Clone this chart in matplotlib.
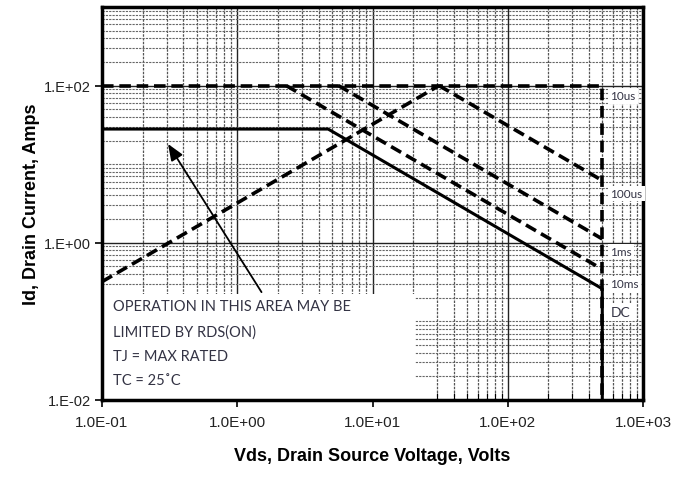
import matplotlib
matplotlib.use("Agg")
import matplotlib.pyplot as plt
from matplotlib.ticker import LogLocator, FixedLocator, NullFormatter
from matplotlib.patches import Rectangle

# ---- data ----
dc_v = [0.1, 4.7, 500, 500]
dc_i = [28, 28, 0.26, 0.01]
us10_v = [0.1, 500, 500]
us10_i = [100, 100, 0.01]
us100_v = [31, 500]
us100_i = [100, 6.2]
ms1_v = [5.6, 500]
ms1_i = [100, 1.12]
ms10_v = [2.3, 500]
ms10_i = [100, 0.46]
rds_v = [0.1, 31]
rds_i = [0.32, 100]

curve_labels = ["10us", "100us", "1ms", "10ms", "DC"]
label_y = [74, 4.2, 0.77, 0.30, 0.13]

x_ticks = [0.1, 1, 10, 100, 1000]
x_tick_labels = ["1.0E-01", "1.0E+00", "1.0E+01", "1.0E+02", "1.0E+03"]
y_ticks = [0.01, 1, 100]
y_tick_labels = ["1.E-02", "1.E+00", "1.E+02"]

note_lines = ["OPERATION IN THIS AREA MAY BE", "LIMITED BY RDS(ON)", "TJ = MAX RATED", "TC = 25\u02daC"]
note_y = [0.158, 0.074, 0.036, 0.018]

fig = plt.figure(figsize=(6.78, 4.81), dpi=100)
ax = fig.add_axes([102/678, 1-401/481, (643-102)/678, (401-8)/481])
ax.set_xscale("log")
ax.set_yscale("log")
ax.set_xlim(0.1, 1000)
ax.set_ylim(0.01, 1000)

# grid
ax.xaxis.set_major_locator(FixedLocator(x_ticks))
ax.yaxis.set_major_locator(FixedLocator(y_ticks))
ax.xaxis.set_minor_locator(LogLocator(base=10, subs=range(2, 10), numticks=20))
ax.yaxis.set_minor_locator(LogLocator(base=10, subs=range(1, 10), numticks=20))
ax.grid(which="major", color="#222222", lw=1.0)
ax.grid(which="minor", axis="x", color="#555555", lw=0.9, ls=(0, (2, 1)))
ax.grid(which="minor", axis="y", color="#666666", lw=0.8, ls=(0, (2, 1)))
ax.set_axisbelow(True)

ax.set_xticklabels(x_tick_labels)
ax.set_yticklabels(y_tick_labels)
ax.yaxis.set_minor_formatter(NullFormatter())
ax.xaxis.set_minor_formatter(NullFormatter())
ax.tick_params(axis="x", which="major", direction="out", length=5, width=1.2, labelsize=11, pad=6)
ax.tick_params(axis="y", which="major", direction="out", length=5, width=1.2, labelsize=10.5, pad=3)
ax.tick_params(axis="x", which="minor", direction="in", length=5, width=0.8)
ax.tick_params(axis="y", which="minor", left=False)
for lab in ax.get_xticklabels() + ax.get_yticklabels():
    lab.set_family("Liberation Sans")
    lab.set_color("#222222")
for s in ax.spines.values():
    s.set_linewidth(2.5)
    s.set_color("black")

# note box (covers grid)
ax.add_patch(Rectangle((0.1, 0.01), 20.5 - 0.1, 0.22 - 0.01, facecolor="white",
                       edgecolor="none", zorder=1))

dash = (0, (3.2, 1.6))
ax.plot(us10_v, us10_i, color="black", lw=2.6, ls=dash, zorder=3)
ax.plot(us100_v, us100_i, color="black", lw=2.6, ls=dash, zorder=3)
ax.plot(ms1_v, ms1_i, color="black", lw=2.6, ls=dash, zorder=3)
ax.plot(ms10_v, ms10_i, color="black", lw=2.6, ls=dash, zorder=3)
ax.plot(rds_v, rds_i, color="black", lw=2.6, ls=dash, zorder=3)
ax.plot(dc_v, dc_i, color="black", lw=2.2, zorder=4)

# curve labels
for lab, yv in zip(curve_labels, label_y):
    fs = 10 if lab == "DC" else 8.5
    ax.text(575, yv, lab, fontsize=fs, family="Lato", color="#333344",
            ha="left", va="center", zorder=5,
            bbox=dict(facecolor="white", edgecolor="none", pad=1.5))

# note text
for t, yv in zip(note_lines, note_y):
    ax.text(0.12, yv, t, fontsize=10.5, family="Lato", color="#333344",
            ha="left", va="center", zorder=5)

ax.annotate("", xy=(0.30, 19.4), xytext=(1.55, 0.22),
            arrowprops=dict(arrowstyle="-|>,head_length=1.0,head_width=0.4",
                            color="black", lw=1.3), zorder=5)

ax.set_xlabel("Vds, Drain Source Voltage, Volts", fontsize=13, fontweight="bold",
              family="Liberation Sans", labelpad=13)
ax.set_ylabel("Id, Drain Current, Amps", fontsize=13, fontweight="bold",
              family="Liberation Sans", labelpad=3)

fig.savefig("out.png", dpi=100)
